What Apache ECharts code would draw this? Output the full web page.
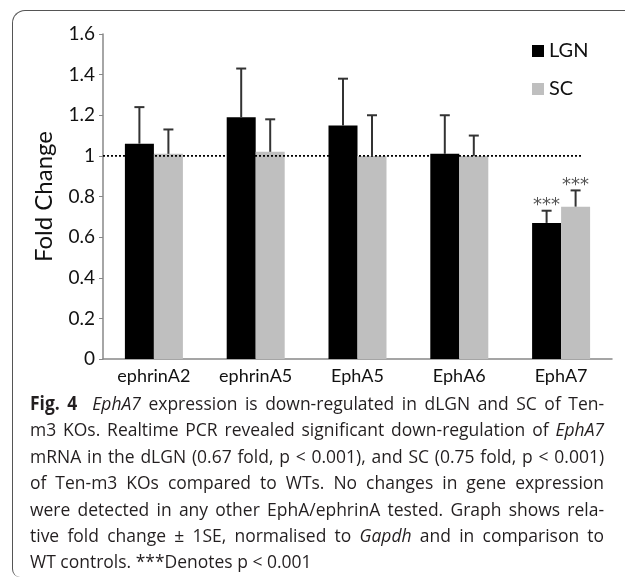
<!DOCTYPE html>
<html>
<head>
<meta charset="utf-8">
<script src="https://cdn.jsdelivr.net/npm/echarts@6/dist/echarts.min.js"></script>
<style>
  html, body { margin: 0; padding: 0; background: #fff; }
  #page { position: relative; width: 625px; height: 582px; overflow: hidden; }
  #frame {
    position: absolute; left: 12px; top: 10px; width: 700px; height: 567px;
    border-left: 1.5px solid #555; border-top: 1.5px solid #555;
    border-top-left-radius: 13px; border-bottom-left-radius: 8px;
    box-sizing: border-box;
  }
  #chart { position: absolute; left: 0; top: 0; width: 625px; height: 395px; }
  #caption {
    position: absolute; left: 30px; top: 390px; width: 624px;
    transform: scaleX(0.92); transform-origin: 0 0;
    font-family: "Open Sans", sans-serif;
    font-size: 19px; line-height: 26.4px; color: #231f20;
  }
  #caption div { text-align: justify; text-align-last: justify; white-space: nowrap; }
  #caption div.last { text-align-last: left; }
</style>
</head>
<body>
<div id="page">
  <div id="frame"></div>
  <div id="chart"></div>
  <div id="caption">
    <div><b>Fig. 4</b>&nbsp; <i>EphA7</i> expression is down-regulated in dLGN and SC of Ten-</div>
    <div>m3 KOs. Realtime PCR revealed significant down-regulation of <i>EphA7</i></div>
    <div>mRNA in the dLGN (0.67 fold, p &lt; 0.001), and SC (0.75 fold, p &lt; 0.001)</div>
    <div>of Ten-m3 KOs compared to WTs. No changes in gene expression</div>
    <div>were detected in any other EphA/ephrinA tested. Graph shows rela-</div>
    <div>tive fold change &plusmn; 1SE, normalised to <i>Gapdh</i> and in comparison to</div>
    <div class="last">WT controls. ***Denotes p &lt; 0.001</div>
  </div>
</div>
<script>
// values
const genes = ['ephrinA2', 'ephrinA5', 'EphA5', 'EphA6', 'EphA7'];
const lgnFold = [1.06, 1.19, 1.15, 1.01, 0.67];
const lgnErrTop = [1.24, 1.43, 1.38, 1.20, 0.73];
const scFold = [1.01, 1.02, 1.00, 1.00, 0.75];
const scErrTop = [1.13, 1.18, 1.20, 1.10, 0.83];
const sigMarks = ['', '', '', '', '***'];
const baseline = 1;

const BAR_W = 29;
const FONT = 'Lato, "Open Sans", sans-serif';

const chart = echarts.init(document.getElementById('chart'));

// error whiskers (upper only) + significance stars
function errorSeries(name, fold, errTop, side) {
  return {
    name: name + ' err',
    type: 'custom',
    z: 5,
    data: genes.map((g, i) => [i, fold[i], errTop[i]]),
    renderItem: (params, api) => {
      const i = api.value(0);
      const base = api.coord([i, api.value(1)]);
      const top = api.coord([i, api.value(2)]);
      const x = base[0] + side * BAR_W / 2;
      const children = [
        { type: 'line', shape: { x1: x, y1: base[1], x2: x, y2: top[1] },
          style: { stroke: '#333', lineWidth: 2 } },
        { type: 'line', shape: { x1: x - 5, y1: top[1], x2: x + 5, y2: top[1] },
          style: { stroke: '#333', lineWidth: 2 } }
      ];
      if (sigMarks[i]) {
        children.push({
          type: 'text',
          style: { text: sigMarks[i], x: x, y: top[1] + 4, align: 'center',
                   verticalAlign: 'bottom', fill: '#555', fontSize: 18,
                   fontFamily: '"DejaVu Sans", sans-serif' }
        });
      }
      return { type: 'group', children: children };
    }
  };
}

chart.setOption({
  animation: false,
  textStyle: { fontFamily: FONT },
  grid: { left: 103, right: 13, top: 34, bottom: 36 },
  legend: {
    data: ['LGN', 'SC'],
    orient: 'vertical',
    left: 527, top: 36,
    itemWidth: 12, itemHeight: 12, itemGap: 18,
    icon: 'rect',
    textStyle: { fontSize: 20, color: '#111', fontFamily: FONT }
  },
  xAxis: {
    type: 'category',
    data: genes,
    axisLine: { lineStyle: { color: '#888', width: 1.5 } },
    axisTick: { show: false },
    axisLabel: { fontSize: 18, color: '#111', margin: 8 }
  },
  yAxis: {
    type: 'value',
    min: 0, max: 1.6, interval: 0.2,
    name: 'Fold Change',
    nameLocation: 'middle',
    nameGap: 47,
    nameTextStyle: { fontSize: 24, color: '#111' },
    axisLine: { show: true, lineStyle: { color: '#888', width: 1.5 } },
    axisTick: { show: true, length: 4, lineStyle: { color: '#888' } },
    axisLabel: { fontSize: 19, color: '#111', margin: 8 },
    splitLine: { show: false }
  },
  series: [
    {
      name: 'LGN', type: 'bar', data: lgnFold,
      barWidth: BAR_W, barGap: '0%',
      itemStyle: { color: '#000' }
    },
    {
      name: 'SC', type: 'bar', data: scFold,
      barWidth: BAR_W, barGap: '0%',
      itemStyle: { color: '#bfbfbf' }
    },
    {
      // dotted reference line at fold change = 1
      type: 'custom', z: 4, silent: true,
      data: [[0, baseline]],
      renderItem: (params, api) => {
        const cs = params.coordSys;
        const y = api.coord([0, api.value(1)])[1];
        return {
          type: 'line',
          shape: { x1: cs.x, y1: y, x2: cs.x + cs.width * 0.943, y2: y },
          style: { stroke: '#000', lineWidth: 1.8, lineDash: [2, 2] }
        };
      }
    },
    errorSeries('LGN', lgnFold, lgnErrTop, -1),
    errorSeries('SC', scFold, scErrTop, 1)
  ]
});
</script>
</body>
</html>
